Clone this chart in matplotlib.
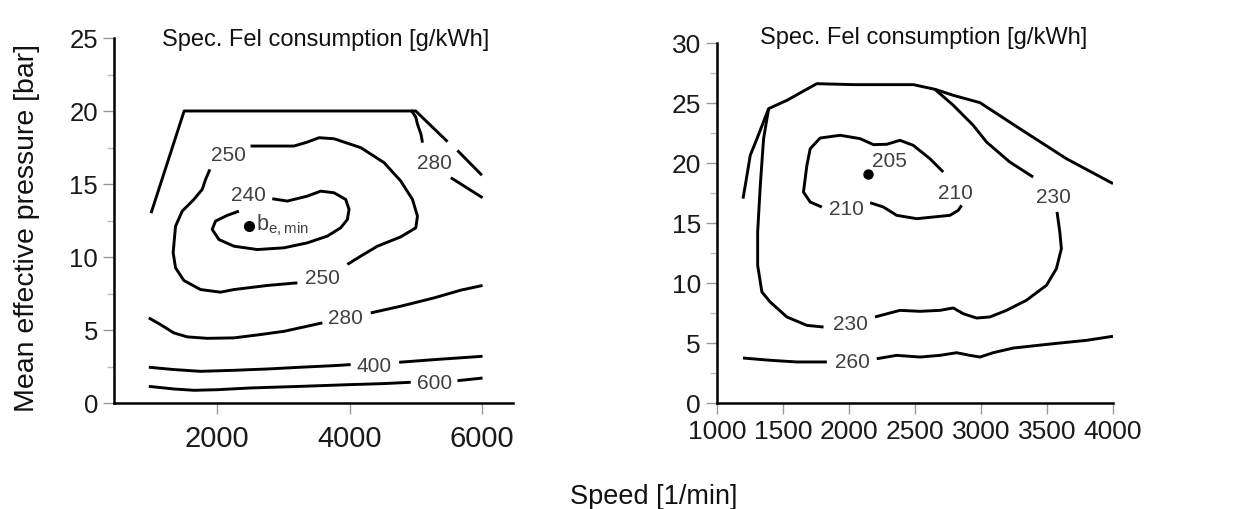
import matplotlib
matplotlib.use("Agg")
import matplotlib.pyplot as plt
from matplotlib.ticker import MultipleLocator

plt.rcParams['font.family'] = ['Liberation Sans', 'DejaVu Sans']
plt.rcParams['mathtext.default'] = 'regular'

# ---- left map (speed 1/min, bmep bar) ----
l_bound_a_x = [1000, 1500, 5000, 5480]
l_bound_a_y = [13.0, 20.0, 20.0, 17.9]
l_bound_b_x = [5630, 6000]
l_bound_b_y = [17.3, 15.6]

l280u_a_x = [4925, 5000, 5026, 5080, 5102]
l280u_a_y = [20.07, 19.6, 19.1, 18.4, 17.83]
l280u_b_x = [5531, 6010]
l280u_b_y = [15.43, 14.06]

l250_x = [2504, 3160, 3362, 3538, 3765, 4169, 4522, 4774, 4951, 5026, 5001, 4774,
          4421, 4169, 3967]
l250_y = [17.60, 17.60, 17.87, 18.17, 18.10, 17.49, 16.46, 15.20, 13.94, 12.80,
          12.00, 11.38, 10.74, 10.06, 9.49]
l250b_x = [3211, 2757, 2252, 2050, 1748, 1496, 1370, 1334, 1354, 1370, 1471, 1647,
           1773, 1824, 1889]
l250b_y = [8.23, 8.05, 7.77, 7.59, 7.77, 8.39, 9.26, 10.29, 11.31, 12.11, 13.14,
           13.94, 14.63, 15.31, 16.0]

l240_x = [2832, 3059, 3362, 3564, 3765, 3942, 3992, 3967, 3866, 3664, 3362, 3009,
          2605, 2252, 2025, 1924, 1975, 2151, 2328]
l240_y = [13.99, 13.83, 14.17, 14.51, 14.40, 13.94, 13.26, 12.57, 12.0, 11.43,
          10.97, 10.63, 10.51, 10.74, 11.2, 11.89, 12.46, 12.85, 13.14]

l280_a_x = [966, 1143, 1345, 1546, 1849, 2252, 2656, 3009, 3362, 3589]
l280_a_y = [5.83, 5.37, 4.80, 4.53, 4.43, 4.46, 4.69, 4.91, 5.26, 5.49]
l280_b_x = [4320, 4774, 5278, 5682, 6010]
l280_b_y = [6.17, 6.63, 7.2, 7.73, 8.05]

l400_a_x = [966, 1345, 1748, 2252, 2757, 3261, 3765, 4017]
l400_a_y = [2.45, 2.29, 2.17, 2.24, 2.33, 2.45, 2.56, 2.63]
l400_b_x = [4749, 5278, 6010]
l400_b_y = [2.79, 2.97, 3.2]

l600_a_x = [966, 1345, 1647, 2000, 2504, 3261, 4017, 4522, 4925]
l600_a_y = [1.14, 0.96, 0.87, 0.91, 1.03, 1.14, 1.26, 1.33, 1.42]
l600_b_x = [5631, 6010]
l600_b_y = [1.53, 1.71]

l_labels = ['250', '250', '240', '280', '280', '400', '600']
l_label_x = [2177, 3589, 2479, 5279, 3942, 4371, 5278]
l_label_y = [17.03, 8.57, 14.29, 16.5, 5.83, 2.56, 1.37]
l_min_x, l_min_y = 2479, 12.11

# ---- right map ----
r_bound_x = [1197, 1227, 1252, 1303, 1391, 1529, 1756, 2034, 2487, 2651, 2790, 2992,
             3294, 3647, 4000]
r_bound_y = [17.03, 18.97, 20.64, 22.03, 24.53, 25.22, 26.61, 26.53, 26.53, 26.14,
             25.64, 25.03, 22.86, 20.36, 18.28]

r230_a_x = [1391, 1353, 1328, 1308, 1308, 1340, 1403, 1529, 1681, 1807]
r230_a_y = [24.53, 22.03, 18.14, 14.25, 11.47, 9.25, 8.42, 7.17, 6.47, 6.33]
r230_b_x = [2197, 2386, 2538, 2689, 2790, 2866, 2966, 3067, 3193, 3344, 3496, 3571,
            3609, 3597, 3576]
r230_b_y = [7.17, 7.72, 7.64, 7.72, 7.92, 7.44, 7.08, 7.17, 7.72, 8.56, 9.81, 11.19,
            12.86, 14.25, 15.92]
r230_c_x = [3395, 3218, 3042, 2941, 2790, 2651]
r230_c_y = [18.83, 20.08, 21.75, 23.14, 24.81, 26.14]

r210_a_x = [2714, 2613, 2487, 2386, 2286, 2185, 2084, 1933, 1781, 1706, 1681, 1668,
            1655, 1706, 1794]
r210_a_y = [19.25, 20.36, 21.47, 21.89, 21.56, 21.53, 22.03, 22.31, 22.08, 21.19,
            19.81, 18.69, 17.58, 16.75, 16.33]
r210_b_x = [2160, 2261, 2361, 2513, 2639, 2765, 2828, 2853]
r210_b_y = [16.69, 16.33, 15.64, 15.36, 15.5, 15.64, 16.06, 16.47]

r260_a_x = [1197, 1403, 1605, 1832]
r260_a_y = [3.75, 3.56, 3.42, 3.42]
r260_b_x = [2210, 2361, 2538, 2689, 2815, 2916, 2992, 3092, 3244, 3546, 3798, 4000]
r260_b_y = [3.69, 3.97, 3.83, 3.97, 4.19, 3.97, 3.83, 4.19, 4.58, 4.94, 5.22, 5.56]

r_labels = ['230', '230', '210', '210', '260']
r_label_x = [2008, 3546, 1983, 2803, 2029]
r_label_y = [6.61, 17.17, 16.19, 17.58, 3.42]
r_min_x, r_min_y = 2147, 19.11

fig = plt.figure(figsize=(12.39, 5.10), dpi=100)
ax1 = fig.add_axes([114/1239, 1-404/510, (513-114)/1239, (404-39)/510])
ax2 = fig.add_axes([717/1239, 1-404/510, (1113-717)/1239, (404-44)/510])

lw = 2.1
kw = dict(color='black', lw=lw, solid_capstyle='butt')
lab = dict(fontsize=15, color='#404040', ha='center', va='center')

for xs, ys in [(l_bound_a_x, l_bound_a_y), (l_bound_b_x, l_bound_b_y),
               (l280u_a_x, l280u_a_y), (l280u_b_x, l280u_b_y),
               (l250_x, l250_y), (l250b_x, l250b_y), (l240_x, l240_y),
               (l280_a_x, l280_a_y), (l280_b_x, l280_b_y),
               (l400_a_x, l400_a_y), (l400_b_x, l400_b_y),
               (l600_a_x, l600_a_y), (l600_b_x, l600_b_y)]:
    ax1.plot(xs, ys, **kw)
for t, x, y in zip(l_labels, l_label_x, l_label_y):
    ax1.text(x, y, t, **lab)
ax1.plot(l_min_x, l_min_y, 'o', color='black', ms=7)
ax1.text(l_min_x + 110, l_min_y + 0.1, r'$b_{e,min}$', fontsize=15.5, color='#404040',
         ha='left', va='center')

for xs, ys in [(r_bound_x, r_bound_y), (r230_a_x, r230_a_y), (r230_b_x, r230_b_y),
               (r230_c_x, r230_c_y), (r210_a_x, r210_a_y), (r210_b_x, r210_b_y),
               (r260_a_x, r260_a_y), (r260_b_x, r260_b_y)]:
    ax2.plot(xs, ys, **kw)
for t, x, y in zip(r_labels, r_label_x, r_label_y):
    ax2.text(x, y, t, **lab)
ax2.plot(r_min_x, r_min_y, 'o', color='black', ms=6.5)
ax2.text(r_min_x + 30, r_min_y + 0.3, '205', fontsize=15, color='#404040',
         ha='left', va='bottom')

ax1.set_xlim(440, 6470)
ax1.set_ylim(0, 25)
ax1.set_xticks([2000, 4000, 6000])
ax1.yaxis.set_major_locator(MultipleLocator(5))
ax1.yaxis.set_minor_locator(MultipleLocator(2.5))
ax1.tick_params(axis='x', labelsize=21, pad=7)
ax1.tick_params(axis='y', labelsize=18.5)

ax2.set_xlim(1000, 4000)
ax2.set_ylim(0, 30)
ax2.xaxis.set_major_locator(MultipleLocator(500))
ax2.yaxis.set_major_locator(MultipleLocator(5))
ax2.yaxis.set_minor_locator(MultipleLocator(2.5))
ax2.tick_params(axis='both', labelsize=19)

for ax in (ax1, ax2):
    for s in ('top', 'right'):
        ax.spines[s].set_visible(False)
    for s in ('left', 'bottom'):
        ax.spines[s].set_linewidth(1.8)
    ax.tick_params(which='major', direction='out', length=8, width=1, color='#999999',
                   labelcolor='#1a1a1a')
    ax.tick_params(which='minor', direction='out', length=5, width=1, color='#bbbbbb')
    ax.patch.set_alpha(0)

fig.text(326/1239, 1-40/510, 'Spec. Fel consumption [g/kWh]', fontsize=17,
         ha='center', va='center', color='#111111')
fig.text(924/1239, 1-38/510, 'Spec. Fel consumption [g/kWh]', fontsize=17,
         ha='center', va='center', color='#111111')
fig.text(27/1239, 1-228/510, 'Mean effective pressure [bar]', fontsize=20.5,
         rotation=90, ha='center', va='center', color='#111111')
fig.text(654/1239, 1-497/510, 'Speed [1/min]', fontsize=19.5, ha='center',
         va='center', color='#111111')

fig.savefig('out.png', dpi=100)
